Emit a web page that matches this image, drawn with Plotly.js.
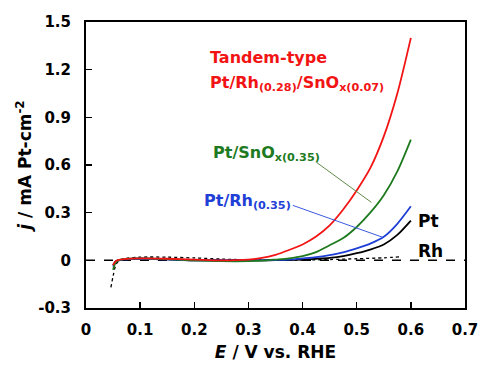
<!DOCTYPE html>
<html>
<head>
<meta charset="utf-8">
<script src="https://cdn.plot.ly/plotly-3.0.1.min.js"></script>
<style>html,body{margin:0;padding:0;background:#fff;}#chart{width:480px;height:366px;}</style>
</head>
<body>
<div id="chart"></div>
<script>
// Potential (V vs. RHE)
const potential = [0.05, 0.055, 0.06, 0.07, 0.1, 0.15, 0.2, 0.25, 0.3, 0.325, 0.35, 0.375, 0.4, 0.425, 0.45, 0.475, 0.5, 0.525, 0.55, 0.575, 0.6];
// Current density (mA Pt-cm^-2)
const tandem = [-0.03, -0.005, 0.003, 0.008, 0.012, 0.01, 0.005, 0.0, 0.005, 0.015, 0.035, 0.065, 0.1, 0.15, 0.22, 0.32, 0.44, 0.58, 0.78, 1.05, 1.40];
const ptSnOx = [-0.06, -0.012, 0.0, 0.008, 0.012, 0.008, 0.0, -0.005, -0.005, -0.002, 0.005, 0.013, 0.027, 0.052, 0.095, 0.14, 0.21, 0.3, 0.41, 0.56, 0.76];
const ptRh   = [-0.04, -0.008, 0.0, 0.006, 0.01, 0.006, 0.0, 0.0, 0.0, 0.0, 0.002, 0.005, 0.012, 0.02, 0.033, 0.05, 0.075, 0.105, 0.148, 0.23, 0.34];
const pt     = [-0.03, -0.006, 0.0, 0.006, 0.01, 0.006, 0.0, 0.0, 0.0, 0.0, 0.001, 0.003, 0.005, 0.01, 0.016, 0.027, 0.045, 0.068, 0.1, 0.16, 0.25];
const rhPotential = [0.046, 0.05, 0.055, 0.06, 0.07, 0.1, 0.15, 0.2, 0.25, 0.3, 0.35, 0.4, 0.45, 0.5, 0.55, 0.58];
const rh          = [-0.17, -0.1, -0.03, -0.005, 0.01, 0.02, 0.02, 0.015, 0.008, 0.003, 0.0, 0.002, 0.005, 0.01, 0.016, 0.022];
const zeroX = [0, 0.7];
const zeroY = [0, 0];
const xTicks = [0, 0.1, 0.2, 0.3, 0.4, 0.5, 0.6, 0.7];
const xTickText = ['0', '0.1', '0.2', '0.3', '0.4', '0.5', '0.6', '0.7'];
const yTicks = [-0.3, 0, 0.3, 0.6, 0.9, 1.2, 1.5];
const yTickText = ['-0.3', '0', '0.3', '0.6', '0.9', '1.2', '1.5'];

const FONT = '"DejaVu Sans", Arial, sans-serif';
const RED = '#f21414', GREEN = '#1e7a1e', BLUE = '#1f3fd6';
const b = s => '<b>' + s + '</b>';

const sp = {shape: 'spline', smoothing: 0.8};
const traces = [
  {x: zeroX, y: zeroY, mode: 'lines', line: {color: '#000', width: 1.5, dash: 'dash'}},
  {x: rhPotential, y: rh, mode: 'lines', line: Object.assign({color: '#000', width: 1.3, dash: 'dot'}, sp)},
  {x: potential, y: pt, mode: 'lines', line: Object.assign({color: '#000', width: 1.8}, sp)},
  {x: potential, y: ptRh, mode: 'lines', line: Object.assign({color: BLUE, width: 1.8}, sp)},
  {x: potential, y: ptSnOx, mode: 'lines', line: Object.assign({color: GREEN, width: 1.8}, sp)},
  {x: potential, y: tandem, mode: 'lines', line: Object.assign({color: RED, width: 1.8}, sp)}
];

const ann = (text, x, y, color, size) => ({text: b(text), x, y, xref: 'x', yref: 'y', xanchor: 'left', yanchor: 'middle', showarrow: false,
  font: {family: FONT, size: size || 16, color, weight: 'bold'}});

const axisCommon = {
  ticks: 'inside', ticklen: 6, tickwidth: 1.5, tickcolor: '#000',
  showline: true, linecolor: '#000', linewidth: 2, mirror: true,
  showgrid: false, zeroline: false,
  tickfont: {family: FONT, size: 15, color: '#000', weight: 'bold'}
};

const layout = {
  width: 480, height: 366,
  margin: {l: 86, r: 15, t: 22, b: 58},
  paper_bgcolor: '#fff', plot_bgcolor: '#fff',
  showlegend: false,
  font: {family: FONT, color: '#000'},
  xaxis: Object.assign({}, axisCommon, {
    range: [0, 0.7], tickmode: 'array', tickvals: xTicks, ticktext: xTickText.map(b),
    ticklabelstandoff: 7,
    title: {text: b('<i>E</i> / V vs. RHE'), font: {family: FONT, size: 17, color: '#000', weight: 'bold'}, standoff: 8}
  }),
  yaxis: Object.assign({}, axisCommon, {
    range: [-0.3, 1.5], tickmode: 'array', tickvals: yTicks, ticktext: yTickText.map(b),
    ticklabelstandoff: 10,
    title: {text: b('<i>j</i> / mA Pt-cm<sup>-2</sup>'), font: {family: FONT, size: 17, color: '#000', weight: 'bold'}, standoff: 2}
  }),
  shapes: [
    {type: 'line', xref: 'x', yref: 'y', x0: 0.426, y0: 0.616, x1: 0.527, y1: 0.365, line: {color: '#5f8a4a', width: 1}},
    {type: 'line', xref: 'x', yref: 'y', x0: 0.382, y0: 0.346, x1: 0.548, y1: 0.145, line: {color: '#3a5ae0', width: 1}}
  ],
  annotations: [
    ann('Tandem-type', 0.226, 1.277, RED),
    ann('Pt/Rh<sub>(0.28)</sub>/SnO<sub>x(0.07)</sub>', 0.226, 1.11, RED),
    ann('Pt/SnO<sub>x(0.35)</sub>', 0.231, 0.67, GREEN),
    ann('Pt/Rh<sub>(0.35)</sub>', 0.215, 0.37, BLUE),
    ann('Pt', 0.61, 0.245, '#000', 17),
    ann('Rh', 0.61, 0.057, '#000', 17)
  ]
};

Plotly.newPlot('chart', traces, layout, {displayModeBar: false, staticPlot: true});
</script>
</body>
</html>
